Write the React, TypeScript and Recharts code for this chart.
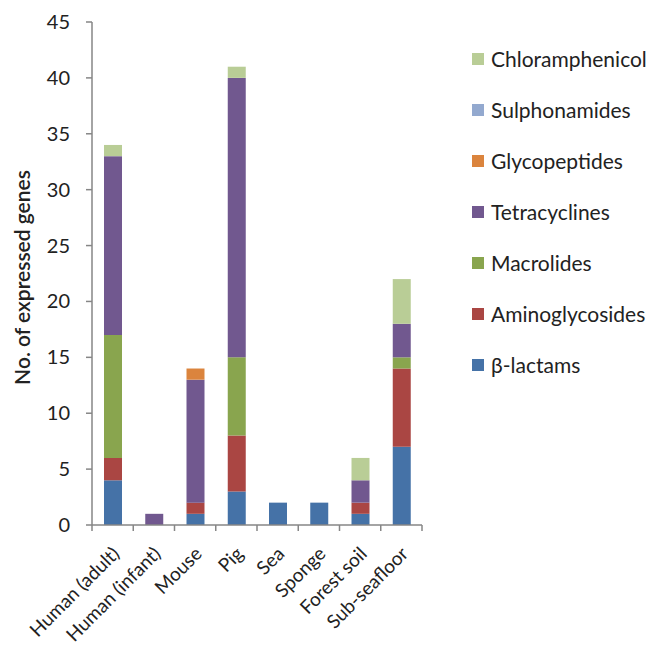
import React from 'react';
import { BarChart, Bar, XAxis, YAxis } from 'recharts';

const categories = ['Human (adult)', 'Human (infant)', 'Mouse', 'Pig', 'Sea', 'Sponge', 'Forest soil', 'Sub-seafloor'];
const betaLactams = [4, 0, 1, 3, 2, 2, 1, 7];
const aminoglycosides = [2, 0, 1, 5, 0, 0, 1, 7];
const macrolides = [11, 0, 0, 7, 0, 0, 0, 1];
const tetracyclines = [16, 1, 11, 25, 0, 0, 2, 3];
const glycopeptides = [0, 0, 1, 0, 0, 0, 0, 0];
const sulphonamides = [0, 0, 0, 0, 0, 0, 0, 0];
const chloramphenicol = [1, 0, 0, 1, 0, 0, 2, 4];
const yTicks = [0, 5, 10, 15, 20, 25, 30, 35, 40, 45];

// bottom to top of each stack
const series = [
  { key: 'beta', name: 'β-lactams', color: '#4572A7', values: betaLactams },
  { key: 'amino', name: 'Aminoglycosides', color: '#AA4643', values: aminoglycosides },
  { key: 'macro', name: 'Macrolides', color: '#89A54E', values: macrolides },
  { key: 'tetra', name: 'Tetracyclines', color: '#71588F', values: tetracyclines },
  { key: 'glyco', name: 'Glycopeptides', color: '#DB843D', values: glycopeptides },
  { key: 'sulpho', name: 'Sulphonamides', color: '#93A9CF', values: sulphonamides },
  { key: 'chloro', name: 'Chloramphenicol', color: '#B9CD96', values: chloramphenicol },
];

const chartData = categories.map((name, i) => {
  const row: any = { name };
  series.forEach(s => { row[s.key] = s.values[i]; });
  return row;
});

const FONT = 'Lato, "Open Sans", sans-serif';
const AXIS = '#868686';
const PLOT_LEFT = 92;
const PLOT_RIGHT = 422;
const BAND = (PLOT_RIGHT - PLOT_LEFT) / categories.length;

const XTick = ({ x, y, payload, index }: any) => {
  const isLast = index === categories.length - 1;
  return (
    <g>
      <line x1={x - BAND / 2} y1={y} x2={x - BAND / 2} y2={y + 6} stroke={AXIS} strokeWidth={1.5} />
      {isLast && <line x1={x + BAND / 2} y1={y} x2={x + BAND / 2} y2={y + 6} stroke={AXIS} strokeWidth={1.5} />}
      <text
        transform={`translate(${x + 8}, ${y + 30}) rotate(-45)`}
        textAnchor="end"
        fontSize={19}
        fontFamily={FONT}
        fill="#222"
      >
        {payload.value}
      </text>
    </g>
  );
};

const YTick = ({ x, y, payload }: any) => (
  <g>
    <line x1={x - 6} y1={y} x2={x} y2={y} stroke={AXIS} strokeWidth={1.5} />
    <text x={x - 22} y={y} dy="0.35em" textAnchor="end" fontSize={20} fontFamily={FONT} fill="#222">
      {payload.value}
    </text>
  </g>
);

const YLabel = ({ viewBox }: any) => {
  const cy = viewBox.y + viewBox.height / 2 + 4;
  return (
    <text
      transform={`translate(23, ${cy}) rotate(-90)`}
      textAnchor="middle"
      dy="0.35em"
      fontSize={21}
      fontWeight={600}
      fontFamily={FONT}
      fill="#222"
    >
      No. of expressed genes
    </text>
  );
};

const LegendBox = () => (
  <div style={{ position: 'absolute', left: 472, top: 33, fontFamily: FONT, fontSize: 21, color: '#222' }}>
    {series.slice().reverse().map(s => (
      <div key={s.key} style={{ display: 'flex', alignItems: 'center', height: 51 }}>
        <span style={{ width: 12, height: 12, background: s.color, marginRight: 7, display: 'inline-block' }} />
        <span style={{ whiteSpace: 'nowrap' }}>{s.name}</span>
      </div>
    ))}
  </div>
);

export default function App() {
  return (
    <div style={{ position: 'absolute', left: 0, top: 0, width: 652, height: 656, background: '#fff', overflow: 'hidden' }}>
      <BarChart
        width={652}
        height={656}
        data={chartData}
        margin={{ top: 22, right: 652 - PLOT_RIGHT, bottom: 0, left: 0 }}
        barSize={18}
      >
        <XAxis
          dataKey="name"
          height={131}
          interval={0}
          tickSize={0}
          tickMargin={0}
          tickLine={false}
          axisLine={{ stroke: AXIS, strokeWidth: 1.5 }}
          tick={<XTick />}
        />
        <YAxis
          width={PLOT_LEFT}
          domain={[0, 45]}
          ticks={yTicks}
          interval={0}
          tickSize={0}
          tickMargin={0}
          tickLine={false}
          axisLine={{ stroke: AXIS, strokeWidth: 1.5 }}
          tick={<YTick />}
          label={{ content: <YLabel /> }}
        />
        {series.map(s => (
          <Bar key={s.key} dataKey={s.key} name={s.name} stackId="a" fill={s.color} isAnimationActive={false} />
        ))}
      </BarChart>
      <LegendBox />
    </div>
  );
}
